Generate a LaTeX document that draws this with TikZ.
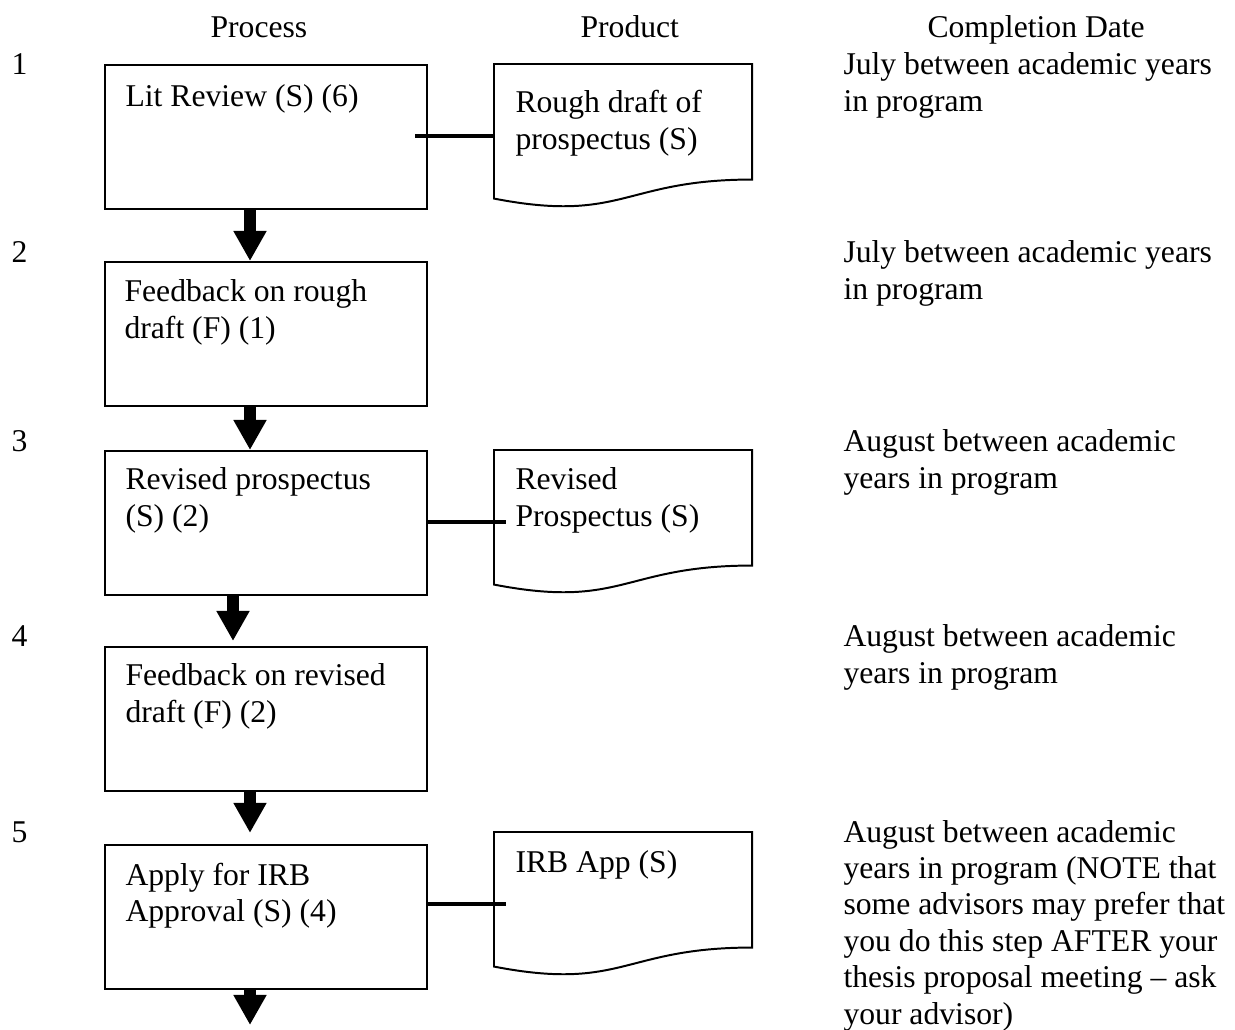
\documentclass[tikz,border=0pt]{standalone}
\usepackage{fontspec}
\setmainfont{Liberation Serif}
\usetikzlibrary{arrows.meta,calc}
\newcommand\mlines[1]{\begin{tabular}[t]{@{}l@{}}#1\end{tabular}}
\newcommand\docshape[1]{%
  \draw[docline] (#1.north west) -- (#1.north east)
    -- ($(#1.north east)!0.802!(#1.south east)$)
    .. controls ($(#1.north)!0.802!(#1.south)$) and ($(#1.north)!1.1075!(#1.south)$)
    .. ($(#1.north west)!0.934!(#1.south west)$) -- cycle;}
\begin{document}
\begin{tikzpicture}[x=0.37895pt,y=-0.37895pt,
  txt/.style={anchor=base west,inner sep=0pt,font=\fontsize{12}{13.8}\selectfont},
  procbox/.style={draw,line width=0.75pt,anchor=north west,inner sep=0pt,minimum width=122pt,minimum height=54.6pt},
  docframe/.style={anchor=north west,inner sep=0pt,minimum width=97.4pt,minimum height=54.2pt},
  docline/.style={draw,line width=0.75pt},
  flow/.style={line width=4.3pt,-{Triangle[width=11.8pt,length=11.4pt]}},
  link/.style={line width=1.5pt}]
\useasboundingbox (0,0) rectangle (1235,1030);

% headers
\node[txt] (hproc) at (210,38) {Process};
\node[txt] (hprod) at (580,38) {Product};
\node[txt] (hdate) at (927,38) {Completion Date};

% step numbers
\node[txt] (n1) at (11,75) {1};
\node[txt] (n2) at (11,263) {2};
\node[txt] (n3) at (11,452) {3};
\node[txt] (n4) at (11,647) {4};
\node[txt] (n5) at (11,842) {5};

% process boxes
\node[procbox] (b1) at (104,64) {};
\node[procbox] (b2) at (104,261) {};
\node[procbox] (b3) at (104,450) {};
\node[procbox] (b4) at (104,646) {};
\node[procbox] (b5) at (104,844) {};

\node[txt] (t1) at (125,107) {Lit Review (S) (6)};
\node[txt] (t2) at (124,302) {\mlines{Feedback on rough\\draft (F) (1)}};
\node[txt] (t3) at (125,490) {\mlines{Revised prospectus\\(S) (2)}};
\node[txt] (t4) at (125,686) {\mlines{Feedback on revised\\draft (F) (2)}};
\node[txt] (t5) at (125,885) {\mlines{Apply for IRB\\Approval (S) (4)}};

% product documents
\node[docframe] (d1) at (494,64) {};
\node[docframe] (d2) at (494,450) {};
\node[docframe] (d3) at (494,832) {};
\docshape{d1}
\docshape{d2}
\docshape{d3}

\node[txt] (p1) at (515,113) {\mlines{Rough draft of\\prospectus (S)}};
\node[txt] (p2) at (515,490) {\mlines{Revised\\Prospectus (S)}};
\node[txt] (p3) at (515,873) {IRB App (S)};

% links box - document
\draw[link,shorten >=-4.9pt] (d1.west) -- (d1.west -| b1.east);
\draw[link,shorten >=-4.5pt] (b3.east |- d2.west) -- (d2.west);
\draw[link,shorten >=-4.5pt] (b5.east |- d3.west) -- (d3.west);

% flow arrows
\coordinate (xa) at (250,0);
\coordinate (xb) at (233,0);
\coordinate (fend) at (250,1025);
\draw[flow] (b1.south -| xa) -- (b2.north -| xa);
\draw[flow] (b2.south -| xa) -- (b3.north -| xa);
\draw[flow,shorten >=1.9pt] (b3.south -| xb) -- (b4.north -| xb);
\draw[flow,shorten >=4.2pt] (b4.south -| xa) -- (b5.north -| xa);
\draw[flow] (b5.south -| xa) -- (fend);

% completion dates
\node[txt] (c1) at (843,75) {\mlines{July between academic years\\in program}};
\node[txt] (c2) at (843,263) {\mlines{July between academic years\\in program}};
\node[txt] (c3) at (843,452) {\mlines{August between academic\\years in program}};
\node[txt] (c4) at (843,647) {\mlines{August between academic\\years in program}};
\node[txt] (c5) at (843,842) {\mlines{August between academic\\years in program (NOTE that\\some advisors may prefer that\\you do this step AFTER your\\thesis proposal meeting – ask\\your advisor)}};
\end{tikzpicture}
\end{document}
